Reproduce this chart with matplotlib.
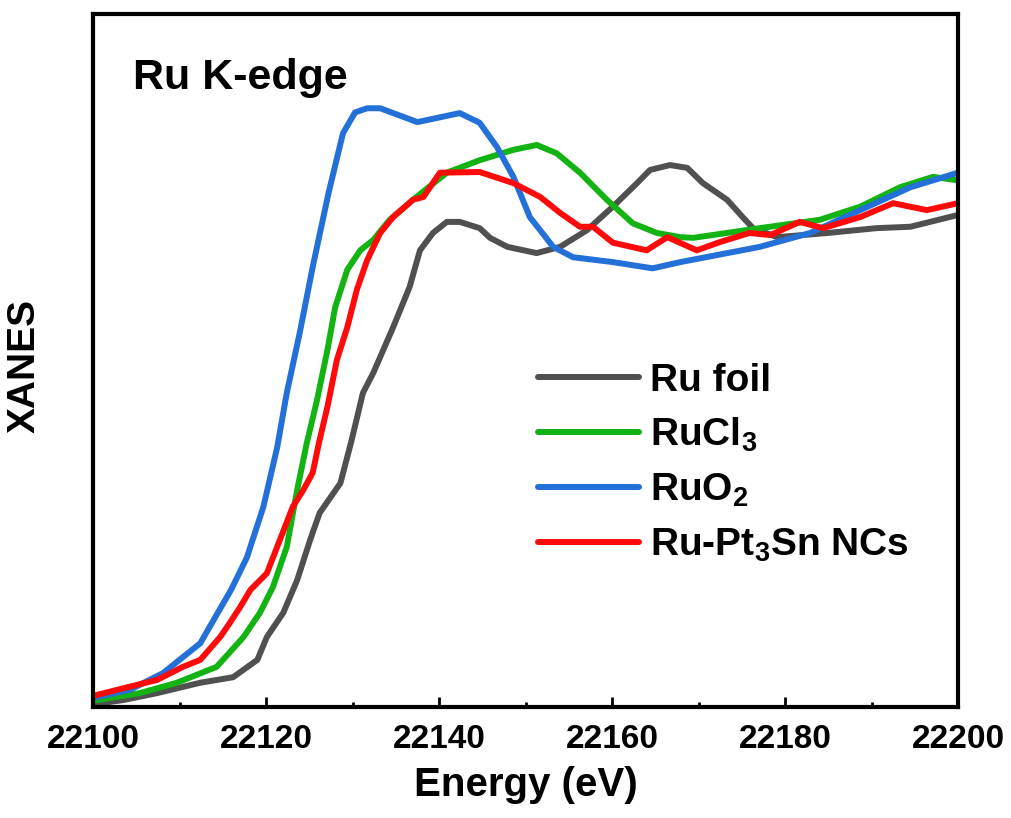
import numpy as np
import matplotlib
matplotlib.use("Agg")
import matplotlib.pyplot as plt
from matplotlib.ticker import MultipleLocator, NullLocator

plt.rcParams['font.family'] = ['Liberation Sans', 'DejaVu Sans']
plt.rcParams['font.weight'] = 'bold'
plt.rcParams['mathtext.fontset'] = 'custom'
plt.rcParams['mathtext.rm'] = 'Liberation Sans:bold'
plt.rcParams['mathtext.default'] = 'rm'

# Ru K-edge XANES (normalised, arbitrary units)
e_foil = [22100, 22103.5, 22107.4, 22112.4, 22116.2, 22119.0, 22120.1, 22122.0, 22123.6,
          22125.1, 22126.2, 22128.6, 22129.9, 22131.2, 22132.4, 22134.7, 22136.6, 22137.8,
          22139.3, 22140.9, 22142.4, 22144.7, 22145.9, 22147.9, 22151.3, 22154, 22157.1,
          22160.1, 22162.9, 22164.4, 22166.7, 22168.7, 22170.5, 22173.3, 22175.1, 22176.3,
          22179.1, 22184.9, 22190.6, 22194.5, 22200]
mu_foil = [0.004, 0.010, 0.020, 0.035, 0.043, 0.068, 0.101, 0.136, 0.183,
           0.241, 0.280, 0.323, 0.385, 0.453, 0.482, 0.548, 0.606, 0.659,
           0.684, 0.700, 0.700, 0.691, 0.677, 0.664, 0.655, 0.664, 0.688,
           0.722, 0.756, 0.775, 0.782, 0.778, 0.756, 0.732, 0.707, 0.691,
           0.678, 0.684, 0.691, 0.693, 0.710]

e_cl3 = [22100, 22105.4, 22109.7, 22114.3, 22117.4, 22119.3, 22120.8, 22122.4, 22123.6,
         22124.7, 22125.9, 22127.1, 22128.0, 22129.4, 22130.9, 22132.4, 22134.3, 22137.0,
         22140.9, 22144.7, 22148.6, 22151.3, 22153.6, 22156.3, 22159.4, 22162.4, 22165.2,
         22167.9, 22169.4, 22177.1, 22184, 22188.7, 22193.3, 22197.1, 22200]
mu_cl3 = [0.009, 0.020, 0.035, 0.058, 0.101, 0.136, 0.173, 0.231, 0.313,
          0.380, 0.443, 0.515, 0.577, 0.631, 0.659, 0.674, 0.703, 0.732,
          0.771, 0.789, 0.804, 0.811, 0.799, 0.771, 0.732, 0.698, 0.684,
          0.678, 0.677, 0.691, 0.703, 0.722, 0.750, 0.765, 0.760]

e_o2 = [22100, 22104.3, 22108.1, 22112.4, 22116.0, 22117.8, 22119.7, 22121.3, 22122.4,
        22123.9, 22125.4, 22127.2, 22128.9, 22130.3, 22131.7, 22133.2, 22137.5, 22142.4,
        22144.7, 22146.7, 22148.6, 22150.5, 22153.2, 22155.5, 22160.1, 22164.7, 22167.9,
        22177.1, 22182.9, 22188.7, 22194.5, 22200]
mu_o2 = [0.013, 0.025, 0.049, 0.092, 0.170, 0.216, 0.289, 0.375, 0.453,
         0.540, 0.635, 0.740, 0.828, 0.858, 0.864, 0.864, 0.844, 0.857,
         0.843, 0.808, 0.765, 0.707, 0.664, 0.649, 0.642, 0.633, 0.642,
         0.664, 0.684, 0.717, 0.750, 0.771]

e_nc = [22100, 22103.5, 22107.4, 22110.4, 22112.4, 22114.7, 22115.8, 22117.0, 22118.2,
        22120.1, 22121.6, 22123.1, 22124.3, 22125.4, 22126.1, 22127.1, 22128.2, 22129.4,
        22130.5, 22131.7, 22133.2, 22134.7, 22137.0, 22138.2, 22140.1, 22144.7, 22148.6,
        22151.7, 22154, 22156.3, 22157.8, 22160.1, 22164, 22166.4, 22169.8, 22172.5,
        22175.9, 22178.3, 22181.7, 22184.4, 22188.7, 22192.5, 22196.4, 22200]
mu_nc = [0.016, 0.027, 0.039, 0.058, 0.068, 0.101, 0.121, 0.144, 0.169,
         0.193, 0.241, 0.289, 0.313, 0.338, 0.380, 0.433, 0.501, 0.548,
         0.602, 0.645, 0.684, 0.707, 0.732, 0.736, 0.771, 0.772, 0.756,
         0.736, 0.713, 0.693, 0.693, 0.670, 0.659, 0.678, 0.659, 0.671,
         0.684, 0.681, 0.700, 0.691, 0.707, 0.727, 0.717, 0.727]

labels = ['Ru foil', r'RuCl$_3$', r'RuO$_2$', r'Ru-Pt$_3$Sn NCs']
colors = ['#505050', '#12b312', '#2370d8', '#ff0a0a']

fig = plt.figure(figsize=(10.11, 8.18), dpi=100)
ax = fig.add_axes([93 / 1011, 1 - 707 / 818, 865 / 1011, 693 / 818])

series = [(e_foil, mu_foil), (e_cl3, mu_cl3), (e_o2, mu_o2), (e_nc, mu_nc)]
for (e, mu), lab, c in zip(series, labels, colors):
    ax.plot(e, mu, color=c, lw=4.3, label=lab, solid_capstyle='round', solid_joinstyle='round')

ax.set_xlim(22100, 22200)
ax.set_ylim(0, 1)
ax.xaxis.set_major_locator(MultipleLocator(20))
ax.xaxis.set_minor_locator(MultipleLocator(10))
ax.yaxis.set_major_locator(NullLocator())
ax.tick_params(axis='x', which='major', direction='in', length=7, width=2, labelsize=24, pad=12)
ax.tick_params(axis='x', which='minor', direction='in', length=3.5, width=2)
for sp in ax.spines.values():
    sp.set_linewidth(3)

ax.set_xlabel('Energy (eV)', fontsize=29, fontweight='bold', labelpad=8)
fig.text(25 / 1011, 1 - 366 / 818, 'XANES', rotation=90, ha='center', va='center',
         fontsize=28, fontweight='bold')
ax.text(0.046, 0.908, 'Ru K-edge', transform=ax.transAxes, ha='left', va='center',
        fontsize=31, fontweight='bold')

ax.legend(loc='upper left', bbox_to_anchor=(0.514, 0.497), frameon=False, fontsize=28,
          handlelength=2.6, handletextpad=0.3, labelspacing=0.45, borderpad=0, borderaxespad=0)

fig.savefig('out.png', dpi=100)
